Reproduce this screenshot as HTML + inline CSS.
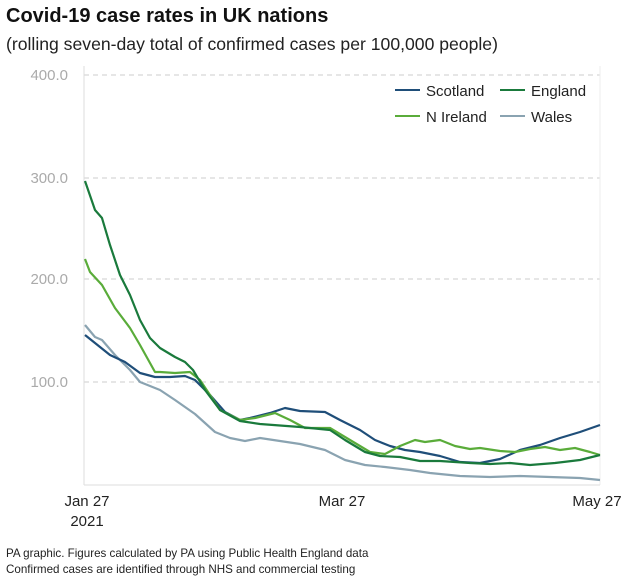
<!DOCTYPE html>
<html><head><meta charset="utf-8"><style>
body{margin:0;background:#fff;width:640px;height:581px;overflow:hidden;font-family:"Liberation Sans",Arial,sans-serif}
</style></head><body>
<svg width="640" height="581" xmlns="http://www.w3.org/2000/svg" font-family="Liberation Sans, Arial, sans-serif">
<text x="6" y="22" font-size="20" font-weight="bold" fill="#111">Covid-19 case rates in UK nations</text>
<text x="6" y="50" font-size="17.6" fill="#222">(rolling seven-day total of confirmed cases per 100,000 people)</text>
<g stroke="#ccc" stroke-dasharray="5,4" stroke-width="1">
<line x1="84" y1="75" x2="600" y2="75"/><line x1="84" y1="178" x2="600" y2="178"/>
<line x1="84" y1="279" x2="600" y2="279"/><line x1="84" y1="382" x2="600" y2="382"/>
</g>
<line x1="84" y1="66" x2="84" y2="485" stroke="#ddd"/>
<line x1="600" y1="66" x2="600" y2="485" stroke="#eee"/>
<line x1="84" y1="485" x2="600" y2="485" stroke="#ddd"/>
<g font-size="15" fill="#aaa" text-anchor="end">
<text x="68" y="80">400.0</text><text x="68" y="183">300.0</text>
<text x="68" y="284">200.0</text><text x="68" y="387">100.0</text>
</g>
<g font-size="15" fill="#222" text-anchor="middle">
<text x="87" y="506">Jan 27</text><text x="87" y="526">2021</text>
<text x="342" y="506">Mar 27</text><text x="597" y="506">May 27</text>
</g>
<g fill="none" stroke-width="2.2" stroke-linejoin="round">
<polyline stroke="#8aa3b1" points="85,325 95,337 102,340 115,355 130,370 140,382 160,390 175,400 195,414 215,432 230,438 245,441 260,438 280,441 300,444 325,450 345,460 365,465 385,467 410,470 430,473 460,476 490,477 520,476 550,477 580,478 600,480"/>
<polyline stroke="#1f4e79" points="85,335 95,343 110,355 125,362 140,373 155,377 170,377 185,376 195,380 210,395 225,412 240,420 250,418 270,413 285,408 300,411 325,412 340,420 360,430 375,440 390,446 405,450 420,452 440,456 460,462 480,463 500,459 520,450 540,445 560,438 580,432 600,425"/>
<polyline stroke="#5aac3a" points="85,259 90,272 102,285 115,308 130,328 140,345 155,372 160,372 175,373 190,372 200,380 220,410 240,420 255,418 275,413 290,420 305,428 330,428 350,440 370,452 385,454 400,446 415,440 425,442 440,440 455,446 470,449 480,448 500,451 515,452 530,449 545,447 560,450 575,448 590,452 600,455"/>
<polyline stroke="#1a7a3c" points="85,181 95,210 102,218 110,245 120,275 130,295 140,320 150,338 160,348 175,357 185,362 193,370 205,390 220,410 240,421 260,424 300,427 330,430 345,440 365,452 380,456 400,457 420,461 440,461 470,463 490,464 510,463 530,465 555,463 580,460 600,455"/>
</g>
<g font-size="15" fill="#222">
<line x1="395" y1="90" x2="420" y2="90" stroke="#1f4e79" stroke-width="2"/><text x="426" y="96">Scotland</text>
<line x1="500" y1="90" x2="525" y2="90" stroke="#1a7a3c" stroke-width="2"/><text x="531" y="96">England</text>
<line x1="395" y1="116" x2="420" y2="116" stroke="#5aac3a" stroke-width="2"/><text x="426" y="122">N Ireland</text>
<line x1="500" y1="116" x2="525" y2="116" stroke="#8aa3b1" stroke-width="2"/><text x="531" y="122">Wales</text>
</g>
<g font-size="11.6" fill="#222">
<text x="6" y="557">PA graphic. Figures calculated by PA using Public Health England data</text>
<text x="6" y="573">Confirmed cases are identified through NHS and commercial testing</text>
</g>
</svg>
</body></html>
